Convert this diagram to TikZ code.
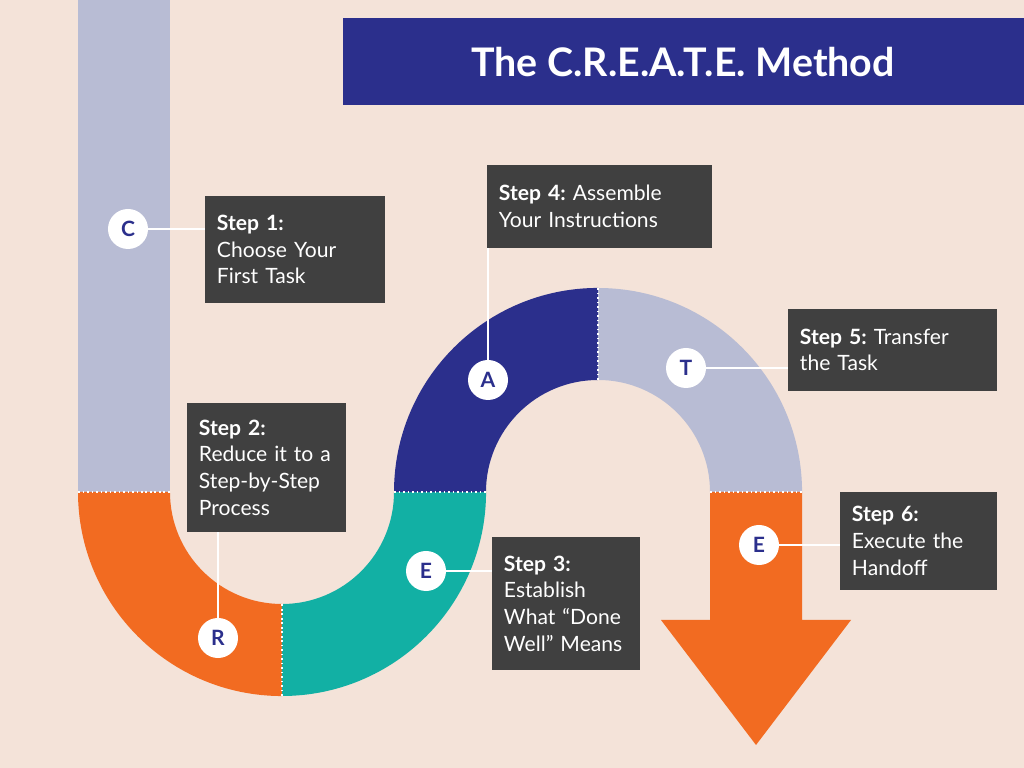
\documentclass[tikz,border=0pt]{standalone}
\usepackage{fontspec}
\setmainfont{Lato}
\usetikzlibrary{positioning}
\frenchspacing
\definecolor{bgcol}{HTML}{F4E3D9}
\definecolor{lav}{HTML}{B8BCD4}
\definecolor{orng}{HTML}{F26B21}
\definecolor{teal}{HTML}{12B0A4}
\definecolor{navy}{HTML}{2B2F8C}
\definecolor{boxcol}{HTML}{404040}
\tikzset{
  stepbox/.style={fill=boxcol, text=white, align=left, inner xsep=0.3cm,
    font=\fontsize{15}{19}\selectfont},
  letter/.style={circle, fill=white, minimum size=1cm, inner sep=0pt,
    text=navy, font=\fontsize{15}{15}\selectfont\bfseries},
  link/.style={white, line width=0.8pt},
  seam/.style={white, dotted, line width=1.2pt}
}
\begin{document}
\begin{tikzpicture}[x=0.025cm,y=0.025cm]
    % Background
    \fill[bgcol] (0,0) rectangle (1024,768);
    \useasboundingbox (0,0) rectangle (1024,768);

    % Title
    \fill[navy] (343,663) rectangle (1024,750);
    \node[text=white, font=\fontsize{28}{28}\selectfont\bfseries] (title) at (683,706) {The C.R.E.A.T.E. Method};

    % Path segments
    \fill[lav] (78,276) rectangle (170,768);
    \fill[orng] (78,276) arc[start angle=180, end angle=270, radius=5.1cm] -- (282,164)
        arc[start angle=270, end angle=180, radius=2.8cm] -- cycle;
    \fill[teal] (282,72) arc[start angle=270, end angle=360, radius=5.1cm] -- (394,276)
        arc[start angle=0, end angle=-90, radius=2.8cm] -- cycle;
    \fill[navy] (394,276) arc[start angle=180, end angle=90, radius=5.1cm] -- (598,388)
        arc[start angle=90, end angle=180, radius=2.8cm] -- cycle;
    \fill[lav] (598,480) arc[start angle=90, end angle=0, radius=5.1cm] -- (710,276)
        arc[start angle=0, end angle=90, radius=2.8cm] -- cycle;
    \fill[orng] (710,276) -- (710,148) -- (661,148) -- (756,23) -- (851,148)
        -- (802,148) -- (802,276) -- cycle;

    % Seams
    \draw[seam] (78,276) -- (170,276);
    \draw[seam] (394,276) -- (486,276);
    \draw[seam] (710,276) -- (802,276);
    \draw[seam] (282,72) -- (282,164);
    \draw[seam] (598,388) -- (598,480);

    % Step boxes
    \node[stepbox, minimum width=4.5cm, minimum height=2.675cm, text width=3.9cm] (s1) at (295,518.5)
        {\textbf{Step 1:}\\Choose Your\\First Task};
    \node[stepbox, minimum width=3.975cm, minimum height=3.225cm, text width=3.375cm] (s2) at (266.5,300.5)
        {\textbf{Step 2:}\\Reduce it to a\\Step-by-Step\\Process};
    \node[stepbox, minimum width=3.7cm, minimum height=3.325cm, text width=3.1cm] (s3) at (566,164.5)
        {\textbf{Step 3:}\\Establish\\What “Done\\Well” Means};
    \node[stepbox, minimum width=5.625cm, minimum height=2.075cm, text width=5.025cm] (s4) at (599.5,561.5)
        {\textbf{Step 4:} Assemble\\Your Instructions};
    \node[stepbox, minimum width=5.225cm, minimum height=2.05cm, text width=4.625cm] (s5) at (892.5,418)
        {\textbf{Step 5:} Transfer\\the Task};
    \node[stepbox, minimum width=3.925cm, minimum height=2.45cm, text width=3.325cm] (s6) at (918.5,227)
        {\textbf{Step 6:}\\Execute the\\Handoff};

    % Letters
    \node[letter] (c) at (128,539) {C};
    \node[letter] (r) at (218,130) {R};
    \node[letter] (e1) at (426,197) {E};
    \node[letter] (a) at (488,388) {A};
    \node[letter] (t) at (686,400) {T};
    \node[letter] (e2) at (759,223) {E};

    % Links
    \draw[link] (c) -- (c -| s1.west);
    \draw[link] (r) -- (r |- s2.south);
    \draw[link] (e1) -- (e1 -| s3.west);
    \draw[link] (a) -- (a |- s4.south);
    \draw[link] (t) -- (t -| s5.west);
    \draw[link] (e2) -- (e2 -| s6.west);
\end{tikzpicture}
\end{document}
